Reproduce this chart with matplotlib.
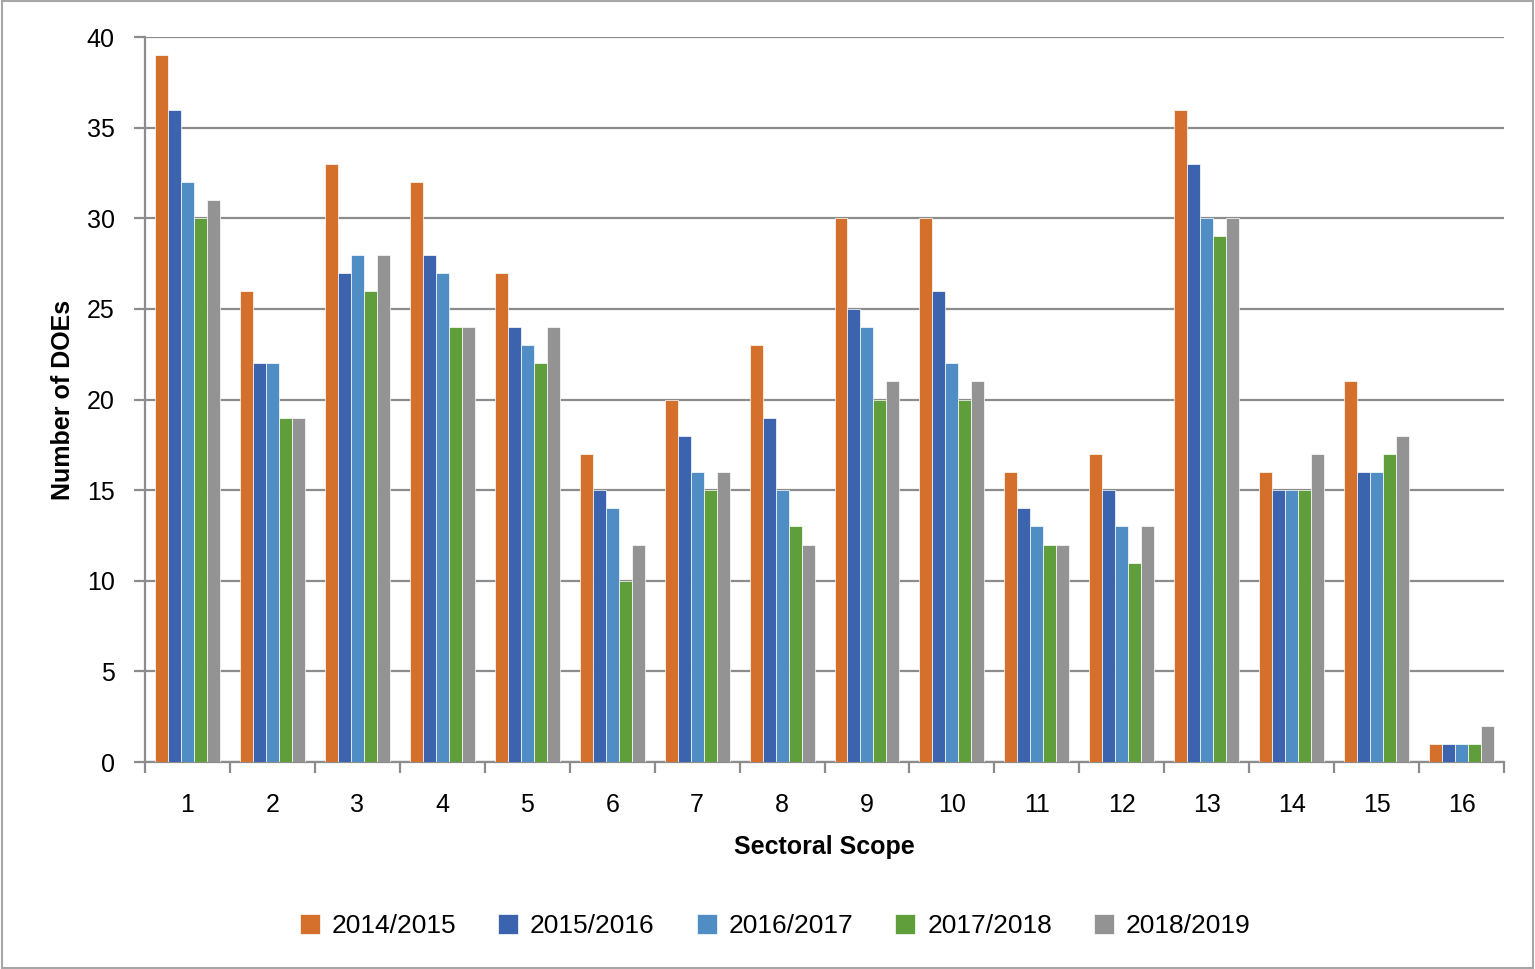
import numpy as np
import matplotlib.pyplot as plt
from matplotlib.patches import Rectangle

plt.rcParams['font.family'] = ['Liberation Sans', 'DejaVu Sans']

scopes = [str(i) for i in range(1, 17)]
years = ["2014/2015", "2015/2016", "2016/2017", "2017/2018", "2018/2019"]
colors = ["#D4702C", "#3C64AE", "#4F8DC4", "#5F9E3A", "#939393"]

v2014 = [39, 26, 33, 32, 27, 17, 20, 23, 30, 30, 16, 17, 36, 16, 21, 1]
v2015 = [36, 22, 27, 28, 24, 15, 18, 19, 25, 26, 14, 15, 33, 15, 16, 1]
v2016 = [32, 22, 28, 27, 23, 14, 16, 15, 24, 22, 13, 13, 30, 15, 16, 1]
v2017 = [30, 19, 26, 24, 22, 10, 15, 13, 20, 20, 12, 11, 29, 15, 17, 1]
v2018 = [31, 19, 28, 24, 24, 12, 16, 12, 21, 21, 12, 13, 30, 17, 18, 2]
series = [v2014, v2015, v2016, v2017, v2018]

fig = plt.figure(figsize=(15.35, 9.69), dpi=100)
ax = fig.add_axes([0.0945, 0.2136, 0.8853, 0.7482])

x = np.arange(len(scopes))
w = 0.153
for i, (vals, c, lab) in enumerate(zip(series, colors, years)):
    ax.bar(x + (i - 2) * w, vals, w, color=c, label=lab,
           edgecolor="white", linewidth=0.5, zorder=3)

ax.set_xlim(-0.5, len(scopes) - 0.5)
ax.set_ylim(0, 40)
ax.set_yticks(range(0, 41, 5))
ax.set_xticks(x)
ax.set_xticklabels(scopes)
ax.set_xticks(np.arange(-0.5, len(scopes), 1), minor=True)

gcol = "#8C8C8C"
ax.grid(axis="y", color=gcol, linewidth=1.6, zorder=0)
for s in ["top", "right"]:
    ax.spines[s].set_visible(False)
for s in ["left", "bottom"]:
    ax.spines[s].set_color(gcol)
    ax.spines[s].set_linewidth(1.6)

ax.tick_params(axis="y", length=8, width=1.6, color=gcol, labelsize=18, pad=14)
ax.tick_params(axis="x", which="major", length=0, labelsize=18, pad=22)
ax.tick_params(axis="x", which="minor", length=8, width=1.6, color=gcol)

ax.set_xlabel("Sectoral Scope", fontsize=18, fontweight="bold", labelpad=13)
ax.set_ylabel("Number of DOEs", fontsize=18, fontweight="bold", labelpad=8)

fig.legend(loc="center", bbox_to_anchor=(0.505, 0.044), ncol=5, frameon=False,
           fontsize=19, handlelength=0.75, handleheight=0.75, handletextpad=0.45,
           columnspacing=1.6)

fig.patches.append(Rectangle((0.001, 0.001), 0.998, 0.998, transform=fig.transFigure,
                             fill=False, edgecolor="#A6A6A6", linewidth=1.5))

fig.savefig("out.png", dpi=100)
